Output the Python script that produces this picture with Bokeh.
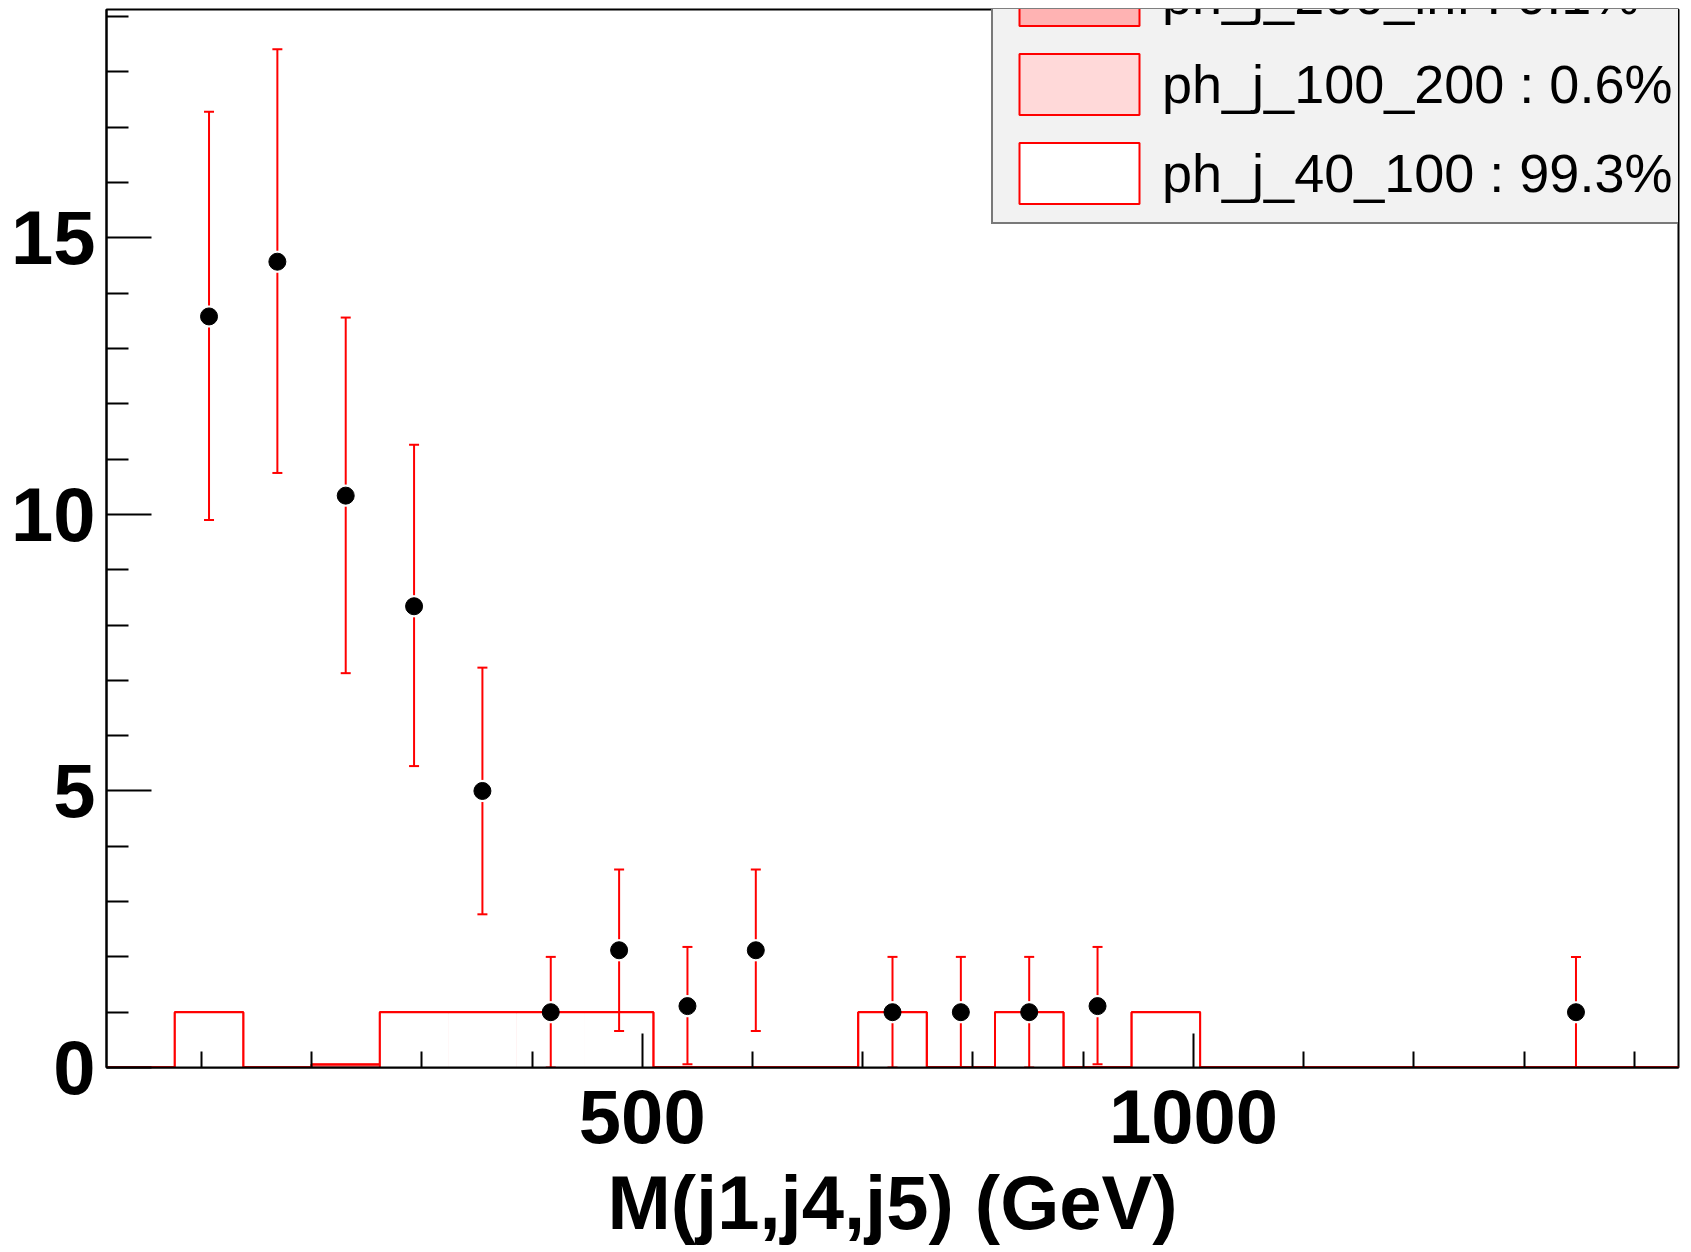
import numpy as np
from bokeh.plotting import figure
from bokeh.models import Range1d, FixedTicker, Legend, LegendItem
from bokeh.embed import file_html
from bokeh.resources import INLINE

# ---- data ----
bin_edges = [14, 76, 138, 200, 262, 324, 386, 448, 510, 572, 634, 696,
             758, 820, 882, 944, 1006, 1068, 1130, 1192, 1254, 1316, 1378, 1440]
h_40_100 = [0, 1, 0, 0, 1, 1, 1, 1, 0, 0, 0, 1, 0, 1, 0, 1, 0, 0, 0, 0, 0, 0, 0]
h_100_200 = [0, 0, 0, 0.05, 0, 0, 0, 0, 0, 0, 0, 0, 0, 0, 0, 0, 0, 0, 0, 0, 0, 0, 0]
h_200_inf = [0, 0, 0, 0.008, 0, 0, 0, 0, 0, 0, 0, 0, 0, 0, 0, 0, 0, 0, 0, 0, 0, 0, 0]

data_bin = [1, 2, 3, 4, 5, 6, 7, 8, 9, 11, 12, 13, 14, 21]
data_val = [13.58, 14.57, 10.34, 8.34, 5.0, 1.0, 2.12, 1.11, 2.12, 1.0, 1.0, 1.0, 1.11, 1.0]
data_lo = [9.90, 10.75, 7.13, 5.45, 2.77, 0.0, 0.66, 0.06, 0.66, 0.0, 0.0, 0.0, 0.06, 0.0]
data_hi = [17.28, 18.41, 13.56, 11.26, 7.23, 2.0, 3.58, 2.18, 3.58, 2.0, 2.0, 2.0, 2.18, 2.0]

legend_labels = ["ph_j_200_inf : 0.1%", "ph_j_100_200 : 0.6%", "ph_j_40_100 : 99.3%"]
legend_fills = ["#ffb3b3", "#ffd9d9", "#ffffff"]

x_title = "M(j1,j4,j5) (GeV)"
x_major = [500, 1000]
x_minor = [100, 200, 300, 400, 600, 700, 800, 900, 1100, 1200, 1300, 1400]
y_major = [0, 5, 10, 15]
y_minor = [1, 2, 3, 4, 6, 7, 8, 9, 11, 12, 13, 14, 16, 17, 18, 19]

FONT = "Liberation Sans"

# ---- figure ----
p = figure(width=1686, height=1248, output_backend="svg", toolbar_location=None,
           x_range=Range1d(bin_edges[0], bin_edges[-1]), y_range=Range1d(0, 19.13),
           min_border_left=106, min_border_right=8, min_border_top=9, min_border_bottom=181)
p.xgrid.visible = False
p.ygrid.visible = False
p.outline_line_color = "black"
p.outline_line_width = 2
p.background_fill_color = "white"
p.border_fill_color = "white"

edges = np.array(bin_edges, dtype=float)
left = edges[:-1]
right = edges[1:]
centers = 0.5 * (left + right)

lvl1 = np.array(h_40_100, dtype=float)
lvl2 = lvl1 + np.array(h_100_200, dtype=float)
lvl3 = lvl2 + np.array(h_200_inf, dtype=float)

# stacked histogram: top of stack drawn first
proxies = []
for vals, col in [(lvl3, legend_fills[0]), (lvl2, legend_fills[1]), (lvl1, legend_fills[2])]:
    p.quad(left=left, right=right, bottom=0, top=vals, fill_color=col, line_color=None)
    p.step(x=edges, y=np.append(vals, vals[-1]), mode="after", line_color="red", line_width=2)
    # hidden copy with outline, used only for the legend swatch
    r = p.quad(left=left, right=right, bottom=0, top=vals, fill_color=col,
               line_color="red", line_width=2, visible=False)
    proxies.append(r)

# data points with error bars
dx = centers[np.array(data_bin)]
dv = np.array(data_val)
dl = np.array(data_lo)
dh = np.array(data_hi)
gap = 0.2
p.segment(x0=dx, y0=dv + gap, x1=dx, y1=dh, line_color="red", line_width=2)
p.segment(x0=dx, y0=dl, x1=dx, y1=np.maximum(dv - gap, dl), line_color="red", line_width=2)
p.scatter(x=np.concatenate([dx, dx]), y=np.concatenate([dh, dl]), marker="dash",
          size=10, line_color="red", line_width=2)
p.scatter(x=dx, y=dv, size=17, fill_color="black", line_color="black")

# axes
xa = p.xaxis[0]
xa.ticker = FixedTicker(ticks=x_major, minor_ticks=x_minor)
xa.axis_label = x_title
xa.axis_label_text_font = FONT
xa.axis_label_text_font_style = "bold"
xa.axis_label_text_font_size = "76px"
xa.axis_label_text_color = "black"
xa.axis_label_standoff = 14
xa.major_label_text_font = FONT
xa.major_label_text_font_style = "bold"
xa.major_label_text_font_size = "76px"
xa.major_label_text_color = "black"
xa.major_label_standoff = 22
xa.major_tick_in = 34
xa.major_tick_out = 0
xa.minor_tick_in = 16
xa.minor_tick_out = 0
xa.axis_line_width = 2
xa.major_tick_line_width = 2
xa.minor_tick_line_width = 2

ya = p.yaxis[0]
ya.ticker = FixedTicker(ticks=y_major, minor_ticks=y_minor)
ya.major_label_text_font = FONT
ya.major_label_text_font_style = "bold"
ya.major_label_text_font_size = "76px"
ya.major_label_text_color = "black"
ya.major_label_standoff = 11
ya.major_tick_in = 45
ya.major_tick_out = 0
ya.minor_tick_in = 22
ya.minor_tick_out = 0
ya.axis_line_width = 2
ya.major_tick_line_width = 2
ya.minor_tick_line_width = 2

legend = Legend(items=[LegendItem(label=lab, renderers=[r]) for lab, r in zip(legend_labels, proxies)],
                location=(885, 843), margin=0, padding=11, spacing=13,
                glyph_width=150, glyph_height=76, label_standoff=8,
                label_text_font=FONT, label_text_font_size="54px", label_text_color="black",
                background_fill_color="#f2f2f2", background_fill_alpha=1.0,
                border_line_color="black", border_line_width=2,
                inactive_fill_alpha=0.0)
p.add_layout(legend)

open("out.html", "w").write(file_html(p, INLINE))
